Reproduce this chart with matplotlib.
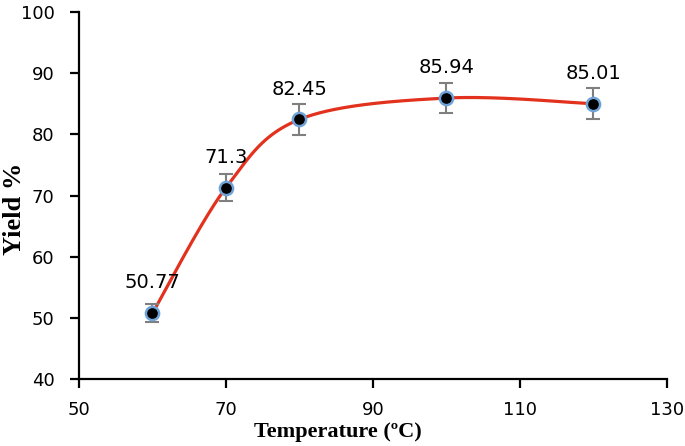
import matplotlib
matplotlib.use("Agg")
import matplotlib.pyplot as plt
import numpy as np

# ── data ──────────────────────────────────────────────────────────────────────
temperature = [60, 70, 80, 100, 120]
yield_pct   = [50.77, 71.3, 82.45, 85.94, 85.01]
yield_err   = [1.5, 2.2, 2.5, 2.5, 2.5]
point_labels = ["50.77", "71.3", "82.45", "85.94", "85.01"]

RED   = "#E2321E"
BLUE  = "#6FA3D8"
GREY  = "#7F7F7F"
INK   = "#000000"


def excel_smooth(x, y, n=60):
    # Catmull-Rom style Bezier, like a spreadsheet "smoothed line"
    x = np.asarray(x, float)
    y = np.asarray(y, float)
    px, py = [], []
    m = len(x)
    for i in range(m - 1):
        x0, y0 = (x[i - 1], y[i - 1]) if i > 0 else (x[i], y[i])
        x3, y3 = (x[i + 2], y[i + 2]) if i + 2 < m else (x[i + 1], y[i + 1])
        x1, y1 = x[i], y[i]
        x2, y2 = x[i + 1], y[i + 1]
        c1x, c1y = x1 + (x2 - x0) / 6, y1 + (y2 - y0) / 6
        c2x, c2y = x2 - (x3 - x1) / 6, y2 - (y3 - y1) / 6
        t = np.linspace(0, 1, n)
        bx = (1-t)**3*x1 + 3*(1-t)**2*t*c1x + 3*(1-t)*t**2*c2x + t**3*x2
        by = (1-t)**3*y1 + 3*(1-t)**2*t*c1y + 3*(1-t)*t**2*c2y + t**3*y2
        px.extend(bx)
        py.extend(by)
    return np.array(px), np.array(py)


fig = plt.figure(figsize=(6.85, 4.46), dpi=100)
ax = fig.add_axes([0.1153, 0.150, 0.8584, 0.823])

sx, sy = excel_smooth(temperature, yield_pct)
ax.plot(sx, sy, "-", color=RED, lw=2.3, zorder=2)

ax.errorbar(temperature, yield_pct, yerr=yield_err, fmt="none", ecolor=GREY,
            elinewidth=1.5, capsize=5, capthick=1.5, zorder=3)
ax.plot(temperature, yield_pct, "o", ms=9.5, mfc="black", mec=BLUE, mew=1.8, zorder=4)

for x, y, lab in zip(temperature, yield_pct, point_labels):
    ax.annotate(lab, (x, y), xytext=(0, 15), textcoords="offset points",
                ha="center", va="bottom", fontsize=14, family="DejaVu Sans",
                color=INK)

ax.set_xlim(50, 130)
ax.set_ylim(40, 100)
ax.set_xticks(range(50, 131, 20))
ax.set_yticks(range(40, 101, 10))

for s in ("top", "right"):
    ax.spines[s].set_visible(False)
for s in ("left", "bottom"):
    ax.spines[s].set_linewidth(1.6)
ax.tick_params(direction="out", length=6.5, width=1.6, labelsize=13)
ax.tick_params(axis="x", pad=9)
ax.tick_params(axis="y", pad=11)

ax.set_xlabel("Temperature (ºC)", family="Liberation Serif", fontweight="bold",
              fontsize=16)
ax.set_ylabel("Yield %", family="Liberation Serif", fontweight="bold",
              fontsize=19)
ax.xaxis.set_label_coords(0.44, -0.118)
ax.yaxis.set_label_coords(-0.09, 0.465)

fig.savefig("out.png", dpi=100)
